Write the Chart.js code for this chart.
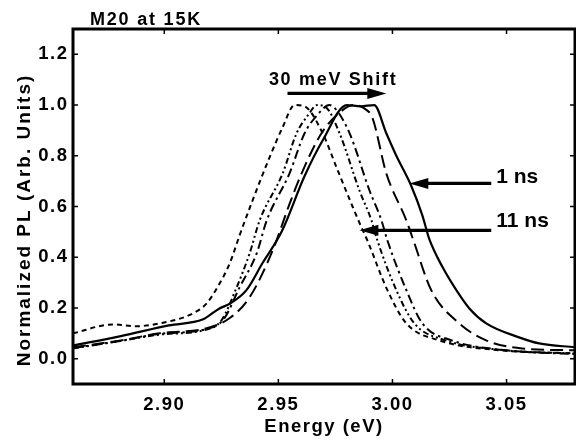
<!DOCTYPE html>
<html><head><meta charset="utf-8">
<script src="https://cdn.jsdelivr.net/npm/chart.js@4"></script>
<style>html,body{margin:0;padding:0;background:#fff;overflow:hidden}canvas{display:block}</style>
</head><body>
<canvas id="c" width="576" height="442" style="width:576px;height:442px"></canvas>
<script>
// ---- axis ticks ----
const xTicks = [2.90, 2.95, 3.00, 3.05];
const yTicks = [0.0, 0.2, 0.4, 0.6, 0.8, 1.0, 1.2];

// ---- series (Energy eV, normalized PL) ----
const e1ns = [2.860, 2.881, 2.902, 2.917, 2.924, 2.929, 2.936, 2.943, 2.9514, 2.9615, 2.9694, 2.980, 2.986, 2.992, 2.9973, 3.0017, 3.0083, 3.0131, 3.0162, 3.022, 3.028, 3.0337, 3.0411, 3.0555, 3.0643, 3.080];
const pl1ns = [0.052, 0.089, 0.131, 0.155, 0.197, 0.218, 0.27, 0.376, 0.50, 0.72, 0.86, 1.0, 0.995, 1.0, 0.889, 0.80, 0.68, 0.565, 0.47, 0.36, 0.27, 0.198, 0.139, 0.084, 0.06, 0.045];

const eLongDash = [2.860, 2.881, 2.898, 2.9186, 2.9287, 2.9374, 2.9475, 2.9549, 2.9602, 2.9689, 2.9768, 2.983, 2.988, 2.9912, 2.9973, 3.0061, 3.0092, 3.017, 3.0293, 3.0411, 3.0568, 3.080];
const plLongDash = [0.045, 0.072, 0.10, 0.12, 0.16, 0.242, 0.427, 0.61, 0.731, 0.889, 0.97, 1.0, 0.985, 0.95, 0.731, 0.545, 0.466, 0.27, 0.139, 0.072, 0.04, 0.033];

const eDashDot = [2.860, 2.881, 2.898, 2.9186, 2.926, 2.933, 2.9405, 2.9449, 2.9549, 2.9615, 2.967, 2.9724, 2.9755, 2.9812, 2.9899, 2.9952, 2.9978, 3.0061, 3.0131, 3.026, 3.05, 3.080];
const plDashDot = [0.042, 0.07, 0.098, 0.117, 0.155, 0.281, 0.415, 0.545, 0.731, 0.889, 0.96, 1.0, 0.98, 0.889, 0.664, 0.545, 0.466, 0.27, 0.139, 0.072, 0.033, 0.018];

const eDashDotDot = [2.860, 2.881, 2.898, 2.9186, 2.925, 2.9317, 2.9374, 2.9418, 2.9519, 2.958, 2.963, 2.967, 2.971, 2.9768, 2.9855, 2.9908, 2.9934, 3.0017, 3.0096, 3.0234, 3.047, 3.080];
const plDashDotDot = [0.04, 0.07, 0.095, 0.115, 0.15, 0.281, 0.415, 0.545, 0.731, 0.889, 0.96, 1.0, 0.99, 0.889, 0.664, 0.545, 0.466, 0.27, 0.139, 0.072, 0.035, 0.02];

const e11ns = [2.860, 2.8775, 2.888, 2.898, 2.9125, 2.9186, 2.923, 2.9287, 2.933, 2.9387, 2.9462, 2.9519, 2.9571, 2.9615, 2.9694, 2.9755, 2.9825, 2.9864, 2.989, 2.9978, 3.0061, 3.0205, 3.0468, 3.080];
const pl11ns = [0.10, 0.135, 0.128, 0.139, 0.178, 0.218, 0.277, 0.376, 0.486, 0.624, 0.795, 0.913, 1.0, 0.995, 0.889, 0.754, 0.6, 0.518, 0.466, 0.27, 0.139, 0.072, 0.033, 0.021];

// ---- annotations (data units) ----
const shiftArrow = {from: 2.954, to: 2.9973, y: 1.046};
const shiftText = {text: '30 meV Shift', x: 2.974, y: 1.078};
const arrows1ns = {from: 3.0433, to: 3.0074, y: 0.691, text: '1 ns', tx: 3.0455, ty: 0.691};
const arrows11ns = {from: 3.0433, to: 2.9855, y: 0.506, text: '11 ns', tx: 3.0455, ty: 0.518};

const FONT = "'Liberation Sans', Arial, Helvetica, sans-serif";
const pts = (xs, ys) => xs.map((x, i) => ({x, y: ys[i]}));

function hArrow(ctx, x1, x2, y) {
  const L = 19, W = 5.5, dir = Math.sign(x2 - x1);
  ctx.lineWidth = 3.2;
  ctx.beginPath(); ctx.moveTo(x1, y); ctx.lineTo(x2 - dir * (L - 2), y); ctx.stroke();
  ctx.beginPath(); ctx.moveTo(x2, y); ctx.lineTo(x2 - dir * L, y - W); ctx.lineTo(x2 - dir * L, y + W); ctx.closePath(); ctx.fill();
}

const decor = {
  id: 'decor',
  beforeDraw(chart) {
    const ctx = chart.ctx;
    ctx.save(); ctx.fillStyle = '#fff'; ctx.fillRect(0, 0, chart.width, chart.height); ctx.restore();
    ctx.letterSpacing = '1.5px';
  },
  afterDraw(chart) {
    const {ctx, chartArea: a, scales: {x, y}} = chart;
    ctx.save();
    ctx.strokeStyle = '#000'; ctx.fillStyle = '#000';
    // ticks inward on all four sides
    ctx.lineWidth = 1.5;
    ctx.beginPath();
    xTicks.forEach(v => { const p = x.getPixelForValue(v); ctx.moveTo(p, a.bottom); ctx.lineTo(p, a.bottom - 5); ctx.moveTo(p, a.top); ctx.lineTo(p, a.top + 5); });
    yTicks.forEach(v => { const p = y.getPixelForValue(v); ctx.moveTo(a.left, p); ctx.lineTo(a.left + 5, p); ctx.moveTo(a.right, p); ctx.lineTo(a.right - 5, p); });
    ctx.stroke();
    // frame
    ctx.lineWidth = 3;
    ctx.strokeRect(a.left, a.top, a.right - a.left, a.bottom - a.top);
    // arrows
    hArrow(ctx, x.getPixelForValue(shiftArrow.from), x.getPixelForValue(shiftArrow.to), y.getPixelForValue(shiftArrow.y));
    hArrow(ctx, x.getPixelForValue(arrows1ns.from), x.getPixelForValue(arrows1ns.to), y.getPixelForValue(arrows1ns.y));
    hArrow(ctx, x.getPixelForValue(arrows11ns.from), x.getPixelForValue(arrows11ns.to), y.getPixelForValue(arrows11ns.y));
    // texts
    ctx.textBaseline = 'alphabetic';
    ctx.font = `bold 18px ${FONT}`; ctx.letterSpacing = '1.7px'; ctx.textAlign = 'center';
    ctx.fillText(shiftText.text, x.getPixelForValue(shiftText.x), y.getPixelForValue(shiftText.y));
    ctx.font = `bold 21px ${FONT}`; ctx.letterSpacing = '0px'; ctx.textAlign = 'left';
    ctx.fillText(arrows1ns.text, x.getPixelForValue(arrows1ns.tx), y.getPixelForValue(arrows1ns.ty));
    ctx.fillText(arrows11ns.text, x.getPixelForValue(arrows11ns.tx), y.getPixelForValue(arrows11ns.ty));
    // chart title
    ctx.font = `bold 18px ${FONT}`; ctx.letterSpacing = '1.8px'; ctx.textAlign = 'left';
    ctx.fillText('M20 at 15K', 90, 25);
    // y axis title
    ctx.translate(25, 220); ctx.rotate(-Math.PI / 2);
    ctx.font = `bold 19px ${FONT}`; ctx.letterSpacing = '2px'; ctx.textAlign = 'center'; ctx.textBaseline = 'middle';
    ctx.fillText('Normalized PL (Arb. Units)', 0, 0);
    ctx.restore();
    ctx.letterSpacing = '1.5px';
  }
};

const mk = (label, xs, ys, dash, w) => ({
  label, data: pts(xs, ys), borderColor: '#000', borderWidth: w, borderDash: dash,
  pointRadius: 0, fill: false, showLine: true, cubicInterpolationMode: 'monotone'
});

new Chart(document.getElementById('c'), {
  type: 'scatter',
  data: {
    datasets: [
      mk('1 ns', e1ns, pl1ns, [], 2.2),
      mk('long dash', eLongDash, plLongDash, [13, 6], 2),
      mk('dash-dot', eDashDot, plDashDot, [9, 4, 2.5, 4], 2),
      mk('dash-dot-dot', eDashDotDot, plDashDotDot, [6, 3, 2, 3, 2, 3], 2),
      mk('11 ns', e11ns, pl11ns, [5, 4], 2)
    ]
  },
  options: {
    responsive: false, animation: false, devicePixelRatio: 1,
    layout: {padding: {left: 0, right: 1, top: 29, bottom: 0}},
    plugins: {legend: {display: false}, tooltip: {enabled: false}, title: {display: false}},
    scales: {
      x: {
        type: 'linear', min: 2.86, max: 3.08,
        afterBuildTicks: s => { s.ticks = xTicks.map(v => ({value: v})); },
        afterFit: s => { s.height = 58; },
        grid: {display: false, drawTicks: false}, border: {display: false},
        ticks: {autoSkip: false, maxRotation: 0, padding: 10, color: '#000',
          font: {family: FONT, weight: 'bold', size: 18.5}, callback: v => Number(v).toFixed(2)},
        title: {display: true, text: 'Energy (eV)', color: '#000', padding: {top: 0, bottom: 4},
          font: {family: FONT, weight: 'bold', size: 18.5}}
      },
      y: {
        type: 'linear', min: -0.1, max: 1.3,
        afterBuildTicks: s => { s.ticks = yTicks.map(v => ({value: v})); },
        afterFit: s => { s.width = 73; },
        grid: {display: false, drawTicks: false}, border: {display: false},
        ticks: {autoSkip: false, padding: 4.5, color: '#000',
          font: {family: FONT, weight: 'bold', size: 18.5}, callback: v => Number(v).toFixed(1)},
        title: {display: false}
      }
    }
  },
  plugins: [decor]
});
</script>
</body></html>
